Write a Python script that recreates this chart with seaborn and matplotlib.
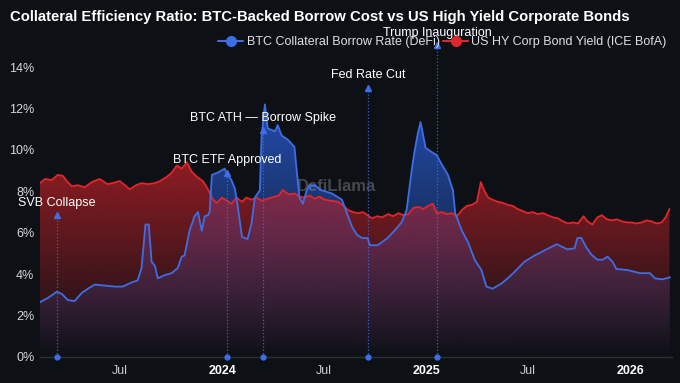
import matplotlib
matplotlib.use("Agg")
import matplotlib.pyplot as plt
import matplotlib.dates as mdates
import matplotlib.colors as mcolors
from matplotlib.lines import Line2D
import numpy as np
import pandas as pd
import seaborn as sns

# BTC collateral borrow rate (DeFi), %
btc_dates = [
    "2023-02-08", "2023-02-22", "2023-03-10", "2023-03-19", "2023-03-30", "2023-04-11",
    "2023-04-24", "2023-05-05", "2023-05-17", "2023-06-04", "2023-06-22", "2023-07-06",
    "2023-07-22", "2023-08-02", "2023-08-09", "2023-08-16", "2023-08-22", "2023-08-27",
    "2023-09-02", "2023-09-07", "2023-09-19", "2023-10-02", "2023-10-13", "2023-10-20",
    "2023-10-25", "2023-11-03", "2023-11-12", "2023-11-18", "2023-11-25", "2023-11-30",
    "2023-12-06", "2023-12-09", "2023-12-13", "2023-12-23", "2024-01-05", "2024-01-10",
    "2024-01-17", "2024-01-23", "2024-01-28", "2024-02-05", "2024-02-15", "2024-02-22",
    "2024-02-28", "2024-03-08", "2024-03-11", "2024-03-17", "2024-03-22", "2024-04-04",
    "2024-04-09", "2024-04-16", "2024-04-27", "2024-05-09", "2024-05-13", "2024-05-18",
    "2024-05-24", "2024-05-31", "2024-06-05", "2024-06-14", "2024-06-27", "2024-07-15",
    "2024-08-02", "2024-08-11", "2024-08-20", "2024-08-29", "2024-09-07", "2024-09-17",
    "2024-09-21", "2024-10-05", "2024-10-23", "2024-11-04", "2024-11-17", "2024-11-26",
    "2024-12-05", "2024-12-10", "2024-12-16", "2024-12-21", "2024-12-25", "2024-12-30",
    "2025-01-10", "2025-01-19", "2025-01-28", "2025-02-08", "2025-02-17", "2025-02-21",
    "2025-03-05", "2025-03-16", "2025-03-28", "2025-04-09", "2025-04-18", "2025-04-29",
    "2025-05-15", "2025-05-26", "2025-06-07", "2025-06-25", "2025-07-13", "2025-07-31",
    "2025-08-22", "2025-09-10", "2025-09-23", "2025-09-28", "2025-10-05", "2025-10-14",
    "2025-10-23", "2025-11-03", "2025-11-12", "2025-11-21", "2025-11-30", "2025-12-07",
    "2025-12-27", "2026-01-18", "2026-02-05", "2026-02-14", "2026-02-27", "2026-03-13",
]
btc_rate = [
    2.65, 2.85, 3.15, 3.05, 2.75, 2.7,
    3.1, 3.3, 3.5, 3.45, 3.4, 3.4,
    3.6, 3.7, 4.3, 6.4, 6.4, 4.6,
    4.4, 3.8, 3.95, 4.05, 4.3, 4.85,
    4.9, 6.1, 6.8, 7.0, 6.1, 6.8,
    6.85, 7.0, 8.8, 8.9, 9.1, 8.8,
    8.55, 8.15, 7.35, 5.8, 5.7, 6.45,
    7.7, 8.05, 10.6, 12.2, 11.05, 10.9,
    11.2, 10.7, 10.5, 10.15, 9.0, 7.7,
    7.4, 8.05, 8.3, 8.3, 8.05, 7.9,
    7.6, 6.95, 6.3, 5.9, 5.75, 5.75,
    5.4, 5.4, 5.75, 6.1, 6.5, 7.1,
    9.0, 9.9, 10.8, 11.35, 10.8, 10.1,
    9.9, 9.75, 9.3, 8.8, 8.05, 6.95,
    6.1, 5.55, 4.7, 4.2, 3.4, 3.3,
    3.55, 3.8, 4.1, 4.6, 4.9, 5.15,
    5.45, 5.2, 5.25, 5.75, 5.75, 5.3,
    4.95, 4.7, 4.7, 4.85, 4.6, 4.25,
    4.2, 4.05, 4.05, 3.8, 3.75, 3.85,
]

# US HY corporate bond yield (ICE BofA), %
hy_dates = [
    "2023-02-08", "2023-02-17", "2023-03-01", "2023-03-12", "2023-03-21", "2023-03-28",
    "2023-04-06", "2023-04-17", "2023-04-29", "2023-05-12", "2023-05-26", "2023-06-09",
    "2023-06-18", "2023-07-01", "2023-07-10", "2023-07-19", "2023-07-30", "2023-08-09",
    "2023-08-20", "2023-09-02", "2023-09-11", "2023-09-23", "2023-10-02", "2023-10-11",
    "2023-10-20", "2023-10-29", "2023-11-07", "2023-11-16", "2023-11-27", "2023-12-06",
    "2023-12-15", "2023-12-22", "2023-12-31", "2024-01-09", "2024-01-17", "2024-01-26",
    "2024-02-05", "2024-02-13", "2024-02-22", "2024-03-02", "2024-03-11", "2024-03-22",
    "2024-04-04", "2024-04-11", "2024-04-18", "2024-04-29", "2024-05-09", "2024-05-18",
    "2024-05-27", "2024-06-05", "2024-06-14", "2024-06-23", "2024-07-02", "2024-07-13",
    "2024-07-26", "2024-08-05", "2024-08-13", "2024-08-22", "2024-08-31", "2024-09-09",
    "2024-09-17", "2024-09-25", "2024-10-04", "2024-10-13", "2024-10-24", "2024-11-02",
    "2024-11-11", "2024-11-20", "2024-11-29", "2024-12-08", "2024-12-17", "2024-12-26",
    "2025-01-03", "2025-01-12", "2025-01-19", "2025-01-28", "2025-02-06", "2025-02-15",
    "2025-02-24", "2025-03-05", "2025-03-14", "2025-03-23", "2025-04-01", "2025-04-08",
    "2025-04-13", "2025-04-21", "2025-04-29", "2025-05-08", "2025-05-17", "2025-05-26",
    "2025-06-04", "2025-06-13", "2025-06-22", "2025-07-01", "2025-07-10", "2025-07-19",
    "2025-07-28", "2025-08-06", "2025-08-15", "2025-08-24", "2025-09-02", "2025-09-11",
    "2025-09-20", "2025-09-29", "2025-10-09", "2025-10-16", "2025-10-25", "2025-11-03",
    "2025-11-11", "2025-11-20", "2025-11-29", "2025-12-08", "2025-12-17", "2025-12-26",
    "2026-01-03", "2026-01-12", "2026-01-21", "2026-01-30", "2026-02-08", "2026-02-17",
    "2026-02-26", "2026-03-05", "2026-03-12",
]
hy_yield = [
    8.4, 8.6, 8.55, 8.8, 8.75, 8.5,
    8.25, 8.3, 8.2, 8.45, 8.6, 8.35,
    8.4, 8.5, 8.3, 8.1, 8.3, 8.4,
    8.35, 8.4, 8.5, 8.7, 8.9, 9.25,
    9.1, 9.4, 8.95, 8.7, 8.5, 8.1,
    7.6, 7.45, 7.7, 7.55, 7.4, 7.7,
    7.5, 7.7, 7.6, 7.7, 7.55, 7.65,
    7.75, 7.8, 8.07, 7.85, 7.9, 7.75,
    7.7, 7.8, 7.65, 7.75, 7.6, 7.55,
    7.5, 7.3, 7.1, 7.0, 6.95, 7.0,
    6.85, 6.7, 6.8, 6.75, 6.9, 6.8,
    6.95, 6.85, 6.9, 7.2, 7.25, 7.15,
    7.3, 7.4, 6.95, 7.0, 6.9, 6.95,
    6.8, 7.1, 7.3, 7.35, 7.5, 8.45,
    8.1, 7.7, 7.6, 7.5, 7.45, 7.35,
    7.3, 7.15, 7.05, 6.95, 7.0, 6.9,
    6.95, 6.85, 6.75, 6.7, 6.55, 6.45,
    6.5, 6.45, 6.8, 6.55, 6.4, 6.75,
    6.85, 6.65, 6.6, 6.65, 6.55, 6.5,
    6.5, 6.45, 6.5, 6.6, 6.55, 6.45,
    6.5, 6.75, 7.15,
]

event_dates = ["2023-03-10", "2024-01-10", "2024-03-14", "2024-09-18", "2025-01-20"]
event_labels = ["SVB Collapse", "BTC ETF Approved", "BTC ATH \u2014 Borrow Spike",
                "Fed Rate Cut", "Trump Inauguration"]

tick_dates = ["2023-07-01", "2024-01-01", "2024-07-01", "2025-01-01", "2025-07-01", "2026-01-01"]
tick_labels = ["Jul", "2024", "Jul", "2025", "Jul", "2026"]

BG = "#0d1116"
RED = "#e0262c"
BLUE = "#3d6ee6"


def gradient_fill(ax, x, y, color, alpha_top, zorder):
    xn = mdates.date2num(pd.to_datetime(x))
    y = np.asarray(y)
    poly = ax.fill_between(xn, 0, y, color="none", lw=0)
    rgb = mcolors.to_rgb(color)
    grad = np.zeros((256, 1, 4))
    grad[..., :3] = rgb
    grad[..., 3] = np.linspace(alpha_top, 0.0, 256)[:, None]
    im = ax.imshow(grad, aspect="auto", origin="upper", zorder=zorder,
                   extent=[xn.min(), xn.max(), 0, y.max()])
    im.set_clip_path(poly.get_paths()[0], transform=ax.transData)


sns.set_theme(style="dark", rc={"axes.facecolor": BG, "figure.facecolor": BG})
plt.rcParams["font.family"] = ["Liberation Sans", "DejaVu Sans"]

fig = plt.figure(figsize=(6.8, 3.83), dpi=100)
ax = fig.add_axes([0.0588, 0.0679, 0.929, 0.8107])

btc = pd.DataFrame({"date": pd.to_datetime(btc_dates), "rate": btc_rate})
hy = pd.DataFrame({"date": pd.to_datetime(hy_dates), "yield": hy_yield})

# blue area underneath, red area laid over it
gradient_fill(ax, btc_dates, btc_rate, "#2857c8", 0.85, 1)
gradient_fill(ax, hy_dates, hy_yield, "#c02128", 0.72, 2)

sns.lineplot(data=hy, x="date", y="yield", ax=ax, color=RED, linewidth=1.3, zorder=4)
sns.lineplot(data=btc, x="date", y="rate", ax=ax, color=BLUE, linewidth=1.3, zorder=5)

# event markers: dotted stem, dot at zero, arrow tip and label
for i, (d, label) in enumerate(zip(pd.to_datetime(event_dates), event_labels)):
    label_y = 7.45 + 2.05 * i
    tip = label_y - 0.6
    ax.plot([d, d], [0, tip], ls=":", lw=0.9, color=BLUE, alpha=0.85, zorder=6, clip_on=False)
    ax.plot([d], [0], marker="o", ms=3.5, color=BLUE, zorder=7, clip_on=False)
    ax.plot([d], [tip], marker="^", ms=4, color=BLUE, zorder=7, clip_on=False)
    ax.text(d, label_y, label, color="white", fontsize=9, ha="center", va="center",
            zorder=8, clip_on=False)

ax.text(0.47, 0.55, "DefiLlama", transform=ax.transAxes, fontsize=12, fontweight="bold",
        color="#c0c0c0", alpha=0.32, ha="center", va="center", zorder=3)

ax.set_xlim(pd.Timestamp("2023-02-08"), pd.Timestamp("2026-03-16"))
ax.set_ylim(0, 15)
ax.set_yticks(range(0, 15, 2))
ax.set_yticklabels([f"{v}%" for v in range(0, 15, 2)], color="#d4d7dc", fontsize=9)
ax.set_xticks(pd.to_datetime(tick_dates))
ax.set_xticklabels(tick_labels, fontsize=9)
for lbl in ax.get_xticklabels():
    if lbl.get_text().isdigit():
        lbl.set_fontweight("bold")
        lbl.set_color("white")
    else:
        lbl.set_color("#c9ccd1")
ax.tick_params(axis="x", length=3, color="#555b63", pad=3)
ax.tick_params(axis="y", length=0, pad=4)
ax.set_xlabel("")
ax.set_ylabel("")
ax.grid(False)
for side in ["top", "right", "left"]:
    ax.spines[side].set_visible(False)
ax.spines["bottom"].set_color("#2c3138")
ax.spines["bottom"].set_linewidth(1.0)

fig.text(0.015, 1 - 17 / 383, "Collateral Efficiency Ratio: BTC-Backed Borrow Cost vs US High Yield Corporate Bonds",
         color="white", fontsize=10.7, fontweight="bold", ha="left", va="center")

handles = [
    Line2D([], [], color=BLUE, lw=1.5, marker="o", ms=7),
    Line2D([], [], color=RED, lw=1.5, marker="o", ms=7),
]
fig.legend(handles, ["BTC Collateral Borrow Rate (DeFi)", "US HY Corp Bond Yield (ICE BofA)"],
           loc="center right", bbox_to_anchor=(0.997, 1 - 42 / 383), ncol=2, frameon=False,
           fontsize=9, labelcolor="#dcdfe3", handlelength=2.0, handletextpad=0.25,
           columnspacing=0.3)

fig.savefig("out.png", dpi=100, facecolor=BG)
